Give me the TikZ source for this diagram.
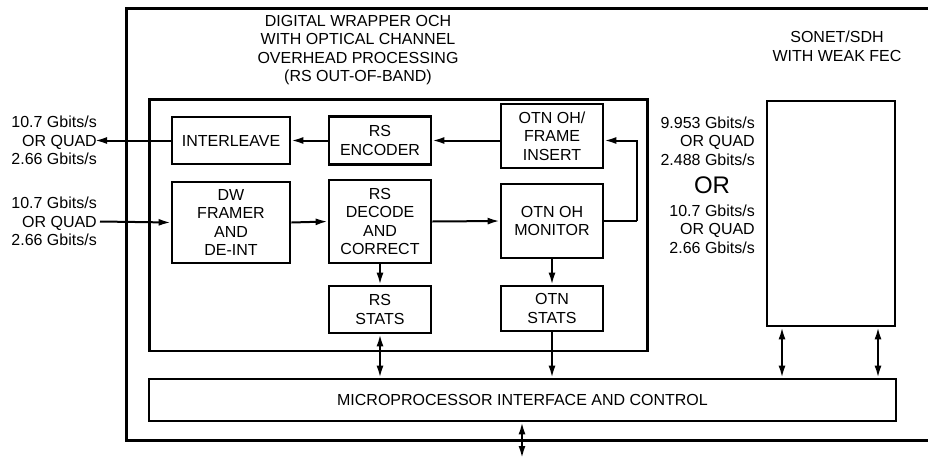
\documentclass[tikz,border=0pt]{standalone}
\usepackage{fontspec}
\setmainfont{Liberation Sans}
\usetikzlibrary{arrows.meta}
\begin{document}
\begin{tikzpicture}[x=1pt,y=-1pt,
  blk/.style={draw,line width=2.7pt,inner sep=0pt,align=center,font=\fontsize{16}{18.4}\selectfont},
  lbl/.style={inner sep=0pt,font=\fontsize{16}{18.4}\selectfont},
  arr/.style={line width=2pt,-{Latex[length=12pt,width=7pt]}},
  darr/.style={line width=2pt,{Latex[length=12pt,width=7pt]}-{Latex[length=12pt,width=7pt]}}]
\useasboundingbox (0,0) rectangle (928,458);
% outer frame (right side cropped)
\draw[line width=3pt] (928,8) -- (126,8) -- (126,440) -- (928,440);
% inner box
\draw[line width=2.7pt] (149.5,99.5) rectangle (647.5,351);
% blocks
\node[blk,minimum width=118pt,minimum height=47pt] (il) at (231,140.5) {INTERLEAVE};
\node[blk,minimum width=102pt,minimum height=48pt] (enc) at (380,140.5) {RS\\ENCODER};
\node[blk,minimum width=102pt,minimum height=64pt] (ins) at (552,136) {OTN OH/\\FRAME\\INSERT};
\node[blk,minimum width=118pt,minimum height=81pt] (dw) at (231,222.5) {DW\\FRAMER\\AND\\DE-INT};
\node[blk,minimum width=102pt,minimum height=83pt] (dec) at (380,221.5) {RS\\DECODE\\AND\\CORRECT};
\node[blk,minimum width=102pt,minimum height=74pt] (mon) at (552,221) {OTN OH\\MONITOR};
\node[blk,minimum width=102pt,minimum height=47pt] (rss) at (380,309.5) {RS\\STATS};
\node[blk,minimum width=102pt,minimum height=45pt] (otns) at (552,308.5) {OTN\\STATS};
\node[blk,minimum width=747pt,minimum height=42pt] (mp) at (522.5,400) {MICROPROCESSOR INTERFACE AND CONTROL};
\node[blk,minimum width=128pt,minimum height=225pt] (son) at (831,213.5) {};
% titles
\node[lbl,align=center,anchor=north] (t1) at (358,15) {DIGITAL WRAPPER OCH\\WITH OPTICAL CHANNEL\\OVERHEAD PROCESSING\\(RS OUT-OF-BAND)};
\node[lbl,align=center,anchor=north] (t2) at (837,31) {SONET/SDH\\WITH WEAK FEC};
% side labels
\node[lbl,align=right,anchor=east] (lo) at (97,140.5) {10.7 Gbits/s\\OR QUAD\\2.66 Gbits/s};
\node[lbl,align=right,anchor=east] (li) at (97,221.5) {10.7 Gbits/s\\OR QUAD\\2.66 Gbits/s};
\node[lbl,align=right,anchor=east] (r1) at (755,141) {9.953 Gbits/s\\OR QUAD\\2.488 Gbits/s};
\node[inner sep=0pt,font=\fontsize{24}{24}\selectfont] (or) at (712,185.5) {OR};
\node[lbl,align=right,anchor=east] (r2) at (755,229) {10.7 Gbits/s\\OR QUAD\\2.66 Gbits/s};
% free ends
\coordinate (oend) at (95,140.5);
\coordinate (istart) at (100,221.5);
\coordinate (bend) at (522,458);
\coordinate (loopa) at (637,221);
\coordinate (loopb) at (637,140.5);
% connectors
\draw[arr] (il.west) -- (oend);
\draw[arr] (istart) -- (dw.west);
\draw[arr] (enc.west) -- (il.east);
\draw[arr] (ins.west |- enc.west) -- (enc.east);
\draw[arr] (dw.east) -- (dec.west);
\draw[arr] (dec.east) -- (mon.west);
\draw[line width=2pt] (mon.east) -- (loopa);
\draw[arr] (loopa) -- (loopb) -- (ins.east |- loopb);
\draw[arr] (dec.south) -- (rss.north);
\draw[arr] (mon.south) -- (otns.north);
\draw[darr] (rss.south) -- (mp.north -| rss.south);
\draw[arr] (otns.south) -- (mp.north -| otns.south);
\draw[darr] (son.south -| 782,0) -- (mp.north -| 782,0);
\draw[darr] (son.south -| 878,0) -- (mp.north -| 878,0);
\draw[darr] (mp.south -| bend) -- (bend);
\end{tikzpicture}
\end{document}
